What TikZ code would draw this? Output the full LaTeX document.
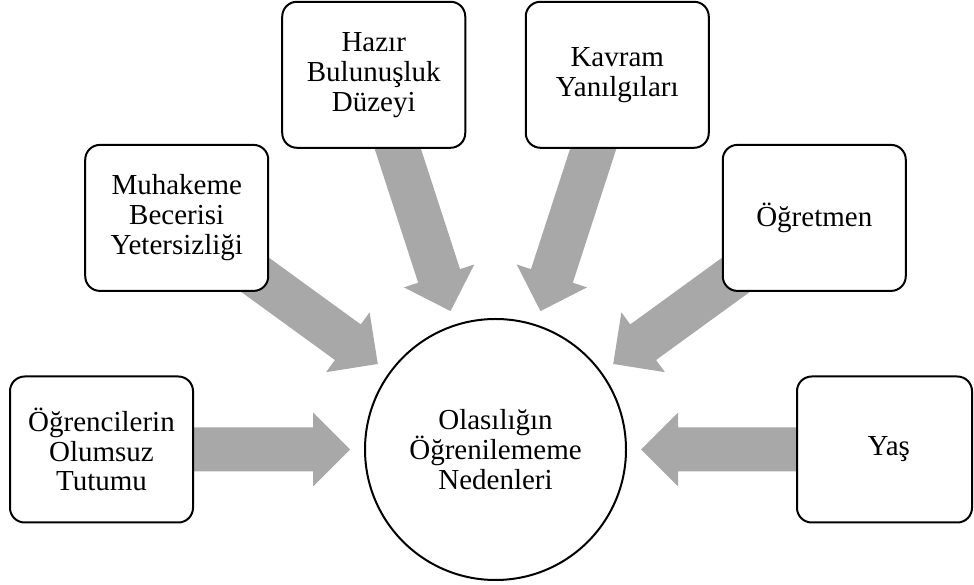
\documentclass[tikz,border=0pt]{standalone}
\usepackage{fontspec}
\setmainfont{Liberation Serif}
\usetikzlibrary{backgrounds,calc}
\definecolor{arrowgray}{RGB}{168,168,168}
\begin{document}
\begin{tikzpicture}[x=0.75pt,y=0.75pt,
  txt/.style={align=center, font=\fontsize{21.75}{22.4}\selectfont, inner sep=0pt},
  box/.style={txt, draw=black, line width=1.5pt, rounded corners=11pt, fill=white,
    minimum width=137.25pt, minimum height=109.5pt},
  hub/.style={txt, circle, draw=black, line width=1.5pt, fill=white, minimum size=195.75pt},
  blockarrow/.style={fill=arrowgray}]
\useasboundingbox (0,0) rectangle (974,585);
\node[hub] (c) at (495.5,135.5) {Olasılığın\\Öğrenilememe\\Nedenleri};
\node[box] (b1) at ($(c)+(180:394)$) {Öğrencilerin\\Olumsuz\\Tutumu};
\node[box] (b2) at ($(c)+(144:394)$) {Muhakeme\\Becerisi\\Yetersizliği};
\node[box] (b3) at ($(c)+(108:394)$) {Hazır\\Bulunuşluk\\Düzeyi};
\node[box] (b4) at ($(c)+(72:394)$) {Kavram\\Yanılgıları};
\node[box] (b5) at ($(c)+(36:394)$) {Öğretmen};
\node[box, minimum width=131.25pt] (b6) at (884.5,135.5) {\hspace*{6.5pt}Yaş};
\begin{scope}[on background layer]
\foreach \b/\a in {b1/180,b2/144,b3/108,b4/72,b5/36,b6/0}{
  \fill[blockarrow, shift={(c.center)}, rotate=\a]
    (394,22) -- (182.5,22) -- (182.5,37) -- (145.5,0) -- (182.5,-37) -- (182.5,-22) -- (394,-22) -- cycle;
}
\end{scope}
\end{tikzpicture}
\end{document}
